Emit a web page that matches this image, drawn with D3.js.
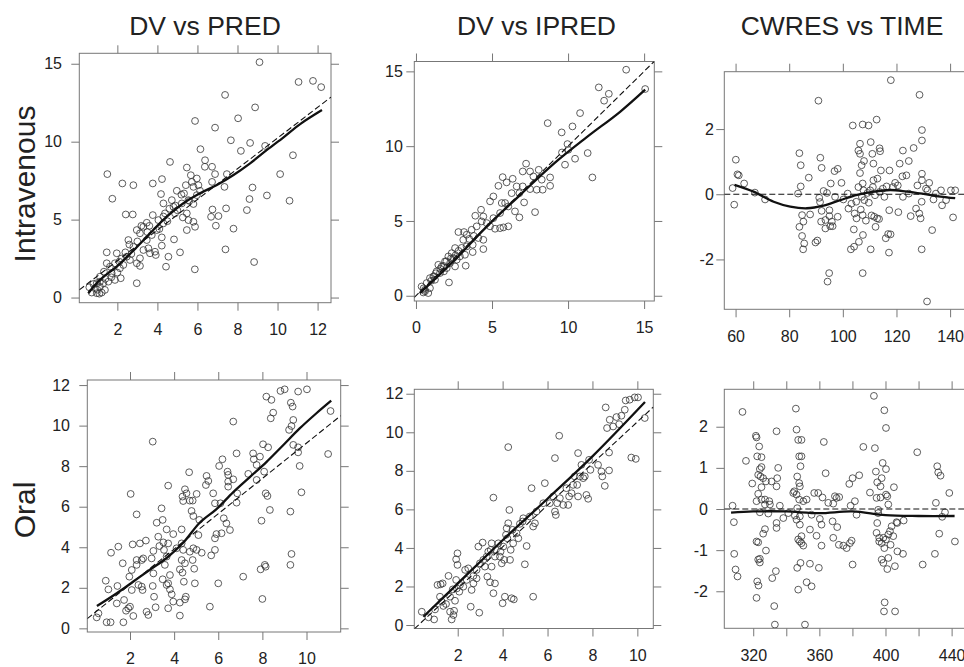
<!DOCTYPE html>
<html>
<head>
<meta charset="utf-8">
<script src="https://cdn.jsdelivr.net/npm/d3@7"></script>
<style>
body { margin: 0; background: #fff; }
text { font-family: "Liberation Sans", Arial, Helvetica, sans-serif; fill: #222; }
</style>
</head>
<body>
<svg id="chart" width="964" height="667"></svg>
<script>
// ---- data ----
var colTitles = ["DV vs PRED", "DV vs IPRED", "CWRES vs TIME"];
var rowTitles = ["Intravenous", "Oral"];

// Intravenous: DV vs PRED  [PRED, DV]
var ivPredPts = [[9.1,15.1],[11.05,13.83],[11.77,13.9],[12.18,13.5],[7.38,13.0],[8.88,12.2],[5.88,11.33],[6.88,10.9],[8.03,11.5],[7.67,10.09],[8.63,9.92],[8.17,9.41],[9.38,9.73],[10.77,9.13],[6.15,9.52],[6.38,8.81],[6.37,8.39],[6.73,8.39],[6.88,7.92],[6.73,7.42],[4.63,8.7],[5.47,8.34],[7.47,7.92],[7.35,7.1],[8.75,7.06],[10.13,7.92],[9.47,6.55],[10.6,6.21],[8.6,6.32],[8.47,5.61],[7.43,5.72],[6.75,5.65],[6.68,5.18],[7.05,5.23],[6.92,4.61],[7.8,4.42],[7.4,3.09],[8.83,2.28],[5.87,1.81],[1.5,7.92],[1.75,6.34],[2.25,7.32],[2.8,7.21],[3.77,7.32],[4.23,7.6],[2.42,5.33],[2.77,5.33],[4.18,6.64],[4.3,6.04],[4.97,6.85],[5.33,6.68],[5.67,7.85],[5.72,7.42],[5.97,7.64],[5.8,7.1],[6.05,7.21],[5.42,7.21],[6.13,6.85],[5.97,6.57],[5.55,6.25],[5.22,6.04],[4.8,5.82],[4.38,5.4],[4.72,6.25],[4.88,5.4],[5.47,5.4],[5.55,4.97],[5.8,4.86],[5.88,4.54],[5.47,4.33],[5.27,5.14],[4.83,3.73],[5.13,2.9],[4.55,2.62],[4.43,1.98],[2.97,0.92],[1.47,2.9],[3.92,2.73],[4.22,3.33],[4.22,3.86],[3.97,4.33],[3.47,4.8],[3.3,4.54],[3.77,5.29],[4.05,4.97],[4.3,4.76],[3.72,4.01],[3.47,3.69],[3.13,4.12],[2.97,4.33],[2.55,3.69],[2.8,3.26],[3.3,3.05],[3.63,2.84],[3.88,2.94],[3.55,3.16],[3.13,2.52],[2.97,2.2],[3.13,2.03],[2.63,2.41],[2.47,2.62],[2.3,2.09],[1.97,2.84],[1.88,2.2],[1.63,1.98],[1.33,1.66],[1.13,1.34],[1.47,2.2],[1.72,1.56],[2.13,1.88],[2.17,1.24],[1.88,1.13],[1.55,1.02],[1.3,0.92],[1.13,0.7],[0.88,0.6],[0.6,0.66],[0.72,0.32],[0.97,0.28],[1.22,0.32],[1.38,0.49],[1.13,1.02],[0.97,0.92],[0.8,0.87],[2.0,1.6],[2.4,2.9],[2.6,3.4],[3.0,3.6],[3.2,4.6],[3.5,4.2],[3.6,4.6],[2.2,2.5],[1.7,1.3],[1.4,1.2],[1.0,0.5],[1.1,0.25],[2.1,2.3],[2.7,2.8],[4.5,4.9],[4.6,5.7],[5.0,5.6],[4.9,5.9],[5.2,6.6],[5.6,6.2],[5.8,6.0],[4.3,5.2],[4.1,4.4]];
var ivPredLoess = [[0.55,0.28],[1.13,1.13],[1.97,1.99],[2.8,3.01],[3.63,4.12],[4.47,5.19],[5.3,6.05],[6.13,6.69],[6.97,7.22],[7.8,7.86],[8.63,8.61],[9.47,9.47],[10.3,10.28],[11.13,11.13],[12.22,12.03]];
var ivPredRef = [[0.1,0.49],[12.67,12.86]];

// Intravenous: DV vs IPRED  [IPRED, DV]
var ivIpredPts = [[13.82,15.11],[12.02,13.93],[12.37,13.04],[12.68,13.5],[10.79,12.21],[8.66,11.54],[10.29,11.32],[9.58,10.92],[9.96,10.14],[10.02,9.76],[9.6,9.58],[9.8,8.76],[10.46,9.16],[11.29,9.54],[11.6,7.91],[7.24,8.83],[7.02,8.31],[7.5,8.31],[8.07,8.42],[7.72,7.98],[8.27,7.76],[8.82,7.91],[8.82,7.35],[8.33,7.09],[7.94,7.09],[7.5,7.13],[7.02,7.31],[6.62,7.31],[6.36,7.82],[5.7,7.93],[5.96,7.58],[5.42,7.35],[6.29,6.86],[6.8,6.86],[7.11,6.24],[7.83,5.59],[6.8,5.24],[6.51,5.64],[6.07,5.97],[5.64,6.2],[5.09,6.64],[4.87,6.31],[5.53,5.53],[5.86,6.2],[6.07,4.64],[5.75,4.57],[5.53,4.52],[5.2,4.48],[4.87,4.64],[4.65,4.86],[5.09,5.19],[4.43,5.3],[4.28,5.75],[3.9,5.35],[4.32,4.97],[3.99,4.64],[4.43,3.74],[4.43,3.12],[4.1,3.86],[3.73,3.41],[3.66,4.41],[3.33,4.08],[3.16,4.26],[2.79,4.26],[3.11,3.74],[3.33,3.3],[3.73,2.92],[3.22,2.74],[3.27,2.01],[2.89,2.63],[2.57,3.19],[2.35,2.85],[2.13,2.63],[2.24,2.18],[1.91,2.3],[1.69,1.96],[1.47,2.07],[1.36,1.63],[1.84,1.63],[1.14,1.29],[0.92,1.18],[0.7,0.85],[0.37,0.62],[0.59,0.4],[0.92,0.51],[0.81,0.18],[0.48,0.22],[2.17,0.89],[2.57,1.96],[2.68,2.41],[2.46,2.52],[2.02,1.85],[1.58,1.52],[1.25,1.07],[15.07,13.82],[1.0,1.0],[1.3,1.5],[1.6,1.8],[1.8,2.0],[2.0,2.3],[2.3,2.5],[2.6,2.7],[2.8,3.0],[3.0,3.2],[3.5,3.8],[3.8,4.0],[0.5,0.5],[0.6,0.3],[1.2,1.3]];
var ivIpredLoess = [[0.26,0.18],[2.45,2.29],[4.65,4.62],[6.84,6.73],[9.03,8.8],[11.23,10.6],[13.42,12.3],[15.07,13.78]];
var ivIpredRef = [[-0.11,-0.11],[15.66,15.66]];

// Intravenous: CWRES vs TIME  [TIME, CWRES]
var ivTimePts = [[117.9,3.5],[128.6,3.05],[90.9,2.87],[103.7,2.11],[107.4,2.14],[109.6,2.11],[112.6,2.29],[129.5,1.97],[129.5,1.65],[126.4,1.42],[110.4,1.6],[106.4,1.55],[105.8,1.34],[106.4,1.24],[113.7,1.41],[113.9,1.32],[111,1.24],[122.4,1.34],[124.6,1.02],[121.2,0.94],[107.9,1.02],[111.4,0.94],[83.8,1.26],[84.3,0.89],[91.6,1.12],[92.1,0.81],[60.1,1.06],[60.7,0.61],[61.2,0.58],[63.2,0.33],[58.9,0.19],[59.5,-0.32],[67.2,0.05],[71,-0.16],[87.3,0.51],[96.9,0.71],[98.1,0.78],[95.5,0.33],[99.5,0.35],[92.8,0.1],[94.1,0.04],[83.3,0.02],[84.3,0.24],[91.2,-0.11],[91.5,-0.24],[97.1,-0.08],[100.2,-0.16],[101.8,0.02],[103.2,-0.29],[102.1,-0.44],[92.1,-0.51],[91.9,-0.84],[93.5,-0.79],[95,-0.49],[95,-0.67],[95.9,-0.84],[95.3,-0.98],[96.2,-0.98],[93.5,-1.05],[98.1,-0.69],[84.8,-0.64],[87.8,-0.62],[85.3,-0.84],[83.8,-1],[84.8,-1.28],[85.6,-1.51],[85.2,-1.69],[89.8,-1.48],[90.5,-1.42],[94.9,-2.42],[94.3,-2.68],[107.4,-2.42],[103,-1.69],[104.2,-1.61],[106,-1.46],[107.5,-1.25],[104.1,-1.08],[104.4,-0.59],[105.1,-0.74],[107.4,-0.64],[108.6,-0.81],[110.7,-0.65],[111.7,-0.69],[112.8,-0.74],[113.5,-0.76],[112.2,-1],[110.4,-1.69],[116,-1.35],[116.9,-1.22],[117.8,-1.23],[117.2,-1.79],[117.3,-0.49],[120.7,-0.55],[125.3,-0.67],[128.5,-0.59],[129,-0.74],[129.4,-0.23],[127.3,-0.44],[129.4,-1.69],[133.3,-1.1],[131.4,-3.29],[141.1,-0.71],[137,-0.34],[138.5,-0.18],[133.8,-0.16],[134.7,0.02],[136.6,0.12],[140.3,0.12],[141.9,0.12],[131.6,0.12],[132.2,0.35],[131,0.17],[129.5,0.43],[129.5,0.63],[127.8,0.27],[122.4,-0.08],[124.6,0.02],[123.7,0.58],[122.2,0.55],[120.5,0.27],[119.5,0.35],[118.7,0.22],[117.4,0.73],[114.2,0.73],[116.3,0.24],[114.9,0.17],[113.7,0.07],[115.5,-0.08],[112,-0.03],[110.2,0.12],[109.2,0.04],[107.7,0.12],[107.1,-0.08],[108,-0.18],[109.7,-0.26],[111.2,0.22],[111.4,0.43],[112.9,0.48],[106.4,0.65],[107,0.89],[107.4,0.33],[105.8,0.22],[105,-0.23],[106.7,-0.47]];
var ivTimeLoess = [[59.6,0.29],[66.7,0.08],[74.2,-0.23],[80.4,-0.38],[86.6,-0.43],[92.8,-0.35],[99.1,-0.18],[105.3,-0.02],[111.5,0.08],[117.7,0.13],[123.9,0.08],[130.1,0.01],[136.4,-0.07],[141.9,-0.12]];
var ivTimeRef = [[55.8,0],[146.3,0]];

// Oral: DV vs PRED
var oralPredPts = [[0.49,0.54],[0.57,0.74],[0.9,2.35],[1.02,1.92],[0.94,0.3],[1.12,0.3],[1.14,3.73],[1.47,4.03],[1.43,2.09],[1.4,1.23],[1.67,3.21],[1.73,1.4],[1.7,0.3],[1.82,0.87],[1.92,0.99],[2.03,6.63],[2.12,4.14],[2.3,5.62],[2.45,4.19],[2.72,4.33],[1.97,2.55],[2.08,2.88],[2.3,3.37],[2.3,3.13],[2.53,3.37],[2.6,3.45],[2.38,2.14],[2.53,2.06],[2.08,1.89],[2.15,0.61],[2.0,1.07],[2.75,0.82],[2.83,0.66],[2.57,1.89],[3.03,9.21],[2.98,3.45],[3.06,3.82],[3.21,5.21],[3.28,4.52],[3.43,5.92],[3.48,5.35],[3.06,2.71],[3.03,2.09],[3.09,1.56],[3.16,1.04],[3.33,4.06],[3.54,3.87],[3.51,4.24],[3.73,7.04],[3.66,4.88],[3.73,4.19],[3.66,3.54],[3.58,3.13],[3.81,2.63],[3.73,2.22],[3.81,1.92],[3.66,2.14],[3.89,1.68],[3.96,1.32],[3.73,0.99],[3.48,2.42],[3.96,4.65],[4.11,3.95],[4.26,0.63],[4.26,1.27],[4.34,4.88],[4.38,6.5],[4.41,6.28],[4.49,6.86],[4.56,6.66],[4.68,7.7],[4.71,6.3],[4.84,6.3],[4.79,5.79],[4.87,5.54],[5.02,6.63],[5.14,5.35],[4.34,4.19],[4.41,3.87],[4.34,3.37],[4.49,3.21],[4.26,2.91],[4.38,2.75],[4.44,2.3],[4.53,1.56],[4.49,1.43],[4.71,3.78],[4.84,3.37],[4.91,2.94],[4.94,2.22],[4.87,3.95],[5.02,3.87],[5.1,4.6],[5.25,3.73],[5.47,7.52],[5.44,7.07],[5.55,7.27],[5.62,1.07],[5.68,3.6],[5.77,6.66],[5.85,6.17],[5.85,4.44],[5.85,3.87],[5.92,4.65],[6.0,2.22],[6.04,8.01],[6.1,6.17],[6.15,4.69],[6.19,8.34],[6.25,5.43],[6.37,5.18],[6.42,7.73],[6.45,7.57],[6.45,7.24],[6.45,6.99],[6.53,4.85],[6.68,10.2],[6.68,7.35],[6.86,6.66],[6.83,6.2],[6.83,8.63],[7.13,2.55],[7.36,7.62],[7.58,8.63],[7.61,8.34],[7.74,8.06],[7.74,7.32],[7.89,8.47],[7.92,2.91],[7.96,5.31],[8.0,1.45],[8.03,9.08],[8.11,3.13],[8.15,3.04],[8.08,7.73],[8.18,11.43],[8.15,6.66],[8.23,6.53],[8.26,8.93],[8.41,11.27],[8.38,10.36],[8.49,10.64],[8.34,5.84],[8.82,11.71],[9.01,11.79],[9.21,9.79],[9.27,5.76],[9.29,11.13],[9.37,10.94],[9.4,10.28],[9.32,9.98],[9.4,9.05],[9.32,3.67],[9.27,3.13],[9.62,11.68],[9.62,8.93],[9.69,8.01],[9.77,6.71],[10.02,11.79],[9.62,8.68],[11.09,10.72],[10.98,8.6]];
var oralPredLoess = [[0.5,1.1],[1.4,1.73],[2.15,2.31],[2.9,2.89],[3.66,3.47],[4.41,4.22],[5.16,5.21],[5.92,5.88],[6.67,6.71],[7.43,7.46],[8.18,8.2],[8.94,9.03],[9.69,9.86],[10.45,10.61],[11.12,11.23]];
var oralPredRef = [[0.064,0.48],[11.55,10.49]];

// Oral: DV vs IPRED
var oralIpredPts = [[0.4,0.69],[0.7,0.4],[0.95,0.29],[0.99,0.81],[1.1,2.08],[1.24,2.11],[1.33,2.16],[1.21,1.47],[1.29,1.21],[1.36,0.99],[1.48,1.09],[1.59,2.55],[1.66,1.47],[1.66,0.69],[1.73,0.29],[1.81,0.52],[1.84,0.74],[1.88,1.26],[1.93,3.41],[1.99,3.72],[1.99,3.12],[1.93,2.34],[1.96,1.9],[1.78,1.85],[2.07,1.73],[2.1,2.08],[2.25,1.99],[2.33,2.86],[2.47,2.94],[2.4,2.34],[2.58,0.95],[2.62,1.82],[2.7,2.16],[2.7,2.55],[2.84,2.42],[2.84,2.86],[2.96,0.64],[2.92,4.07],[3.11,4.28],[2.99,3.2],[3.14,3.38],[3.21,3.03],[3.29,3.55],[3.32,2.51],[3.44,2.22],[3.36,3.81],[3.47,3.9],[3.51,4.24],[3.51,3.03],[3.59,6.61],[3.59,1.65],[3.66,2.16],[3.66,3.55],[3.7,3.9],[3.81,4.24],[3.88,3.55],[3.91,3.81],[3.96,3.2],[4,1.13],[4.07,3.38],[4.03,4.07],[4.1,1.47],[4.15,4.68],[4.18,5.02],[4.21,4.5],[4.25,5.28],[4.25,9.23],[4.3,5.97],[4.33,3.38],[4.36,3.9],[4.4,1.39],[4.44,4.94],[4.47,4.24],[4.5,1.33],[4.62,4.76],[4.7,4.5],[4.77,5.25],[4.89,5.37],[4.92,5.54],[4.99,3.15],[5.07,4.1],[5.21,5.63],[5.29,7.1],[5.36,1.47],[5.36,5.11],[5.44,5.28],[5.51,5.89],[5.81,6.32],[5.88,7.36],[6.1,6.32],[6.25,6.67],[6.33,8.66],[6.33,5.89],[6.37,5.71],[6.43,6.32],[6.52,9.82],[6.55,6.58],[6.7,6.23],[6.84,7.1],[6.92,6.23],[6.96,6.67],[7.07,6.84],[7.14,7.27],[7.21,7.71],[7.32,7.27],[7.36,8.92],[7.36,6.67],[7.44,7.71],[7.51,8.31],[7.59,7.62],[7.66,7.71],[7.73,6.75],[7.81,6.55],[7.85,8.57],[7.91,8.05],[8.25,8.31],[8.4,7.97],[8.44,7.71],[8.55,7.22],[8.59,11.29],[8.65,10.22],[8.74,8.02],[8.74,8.95],[8.77,10.65],[8.92,10.3],[9.07,10.79],[9.19,10.42],[9.29,10.86],[9.44,11.17],[9.48,11.65],[9.66,11.69],[9.88,11.81],[10.03,11.81],[9.73,8.69],[9.93,8.62],[10.33,10.74]];
var oralIpredLoess = [[0.47,0.43],[2,2.15],[4,4.4],[6,6.55],[8,8.75],[10.34,11.57]];
var oralIpredRef = [[0.067,-0.2],[10.71,11.31]];

// Oral: CWRES vs TIME
var oralTimePts = [[307.5,0.08],[308.3,-0.32],[308.5,-1.09],[309.3,-1.47],[310.5,-1.64],[313.5,2.36],[315.6,1.17],[319.4,0.62],[321.6,1.78],[322,1.74],[323.6,1.52],[322.4,1.28],[325,1.26],[324,0.97],[325,1.02],[323,0.83],[324.4,0.79],[326,0.75],[327.7,0.67],[331.1,0.67],[323,0.37],[325,0.53],[322,0.19],[325,0.23],[327.1,0.23],[329.7,0.19],[330.1,0.11],[327.1,0.11],[324,-0.08],[329.1,-0.11],[334.1,0.55],[335.1,1],[334.5,0.75],[334.1,1.89],[336.1,0.08],[334.1,-0.34],[334.1,-0.46],[327.1,-0.49],[326,-0.6],[322,-0.79],[323,-0.81],[327.7,-1.01],[323,-1.23],[324,-1.21],[324,-1.3],[322.4,-1.76],[323.2,-1.86],[322,-2.16],[331.5,-1.68],[333.7,-1.51],[332.7,-2.36],[333.1,-2.81],[338.2,-0.22],[341.2,-0.1],[345.2,-0.16],[344.2,0.39],[344.8,0.43],[345.8,2.44],[346.2,1.93],[347.2,1.68],[349.2,1.68],[347.8,1.28],[349.2,1.28],[348.6,1.04],[346.6,0.79],[347.8,0.63],[348.2,0.55],[346.2,0.35],[347.8,0.23],[350.3,0.19],[352.3,0.23],[346.6,0.02],[346.2,-0.26],[348.2,-0.18],[348.2,-0.38],[347.2,-0.74],[348.2,-0.79],[349.2,-0.83],[350.3,-0.89],[349.2,-0.66],[346.6,-1.43],[348.6,-1.31],[347.2,-1.96],[352.3,-1.78],[355.3,-1.88],[354.3,-1.33],[351.3,-2.81],[354.3,-0.5],[355.3,-0.14],[356.9,0.39],[358.3,-0.65],[359.3,0.39],[359.7,-1.43],[360.3,-0.24],[361.3,-0.38],[361.3,-0.89],[361.9,0.28],[362.7,1.63],[363.8,0.87],[365.4,0.15],[368,-0.3],[369.4,0.31],[368.4,0.13],[370.4,0.27],[372,0.29],[368.4,-0.7],[370.8,-0.44],[371.8,-0.87],[374.5,-0.89],[376.5,-0.95],[378.5,-0.83],[379.5,-0.77],[378.1,0.61],[380.1,0.75],[384.1,0.82],[378.9,0.08],[381.5,0.19],[382.5,-0.14],[380.1,-1.35],[386.6,1.51],[390.6,0.4],[393,2.75],[393.6,1.48],[394.2,0.91],[394.6,0.27],[395,0.65],[395,-0.34],[395.6,-0.02],[395.6,-0.1],[394.6,-0.58],[396.2,-0.7],[397,0.55],[397,0.28],[397.7,0.75],[398.3,1.12],[399.3,2.4],[400.3,0.97],[400.3,1.97],[400.3,0.35],[401.1,0.31],[401.7,0.11],[396.2,-0.79],[397.7,-0.83],[398.7,-0.7],[399.3,-0.95],[400.3,-0.74],[401.7,-0.62],[402.7,-0.54],[403.1,-0.87],[403.7,-0.42],[404.7,-0.66],[405.1,0.53],[405.7,-1.39],[406.7,-0.32],[407.1,-0.34],[401.7,-1.19],[397.7,-1.23],[398.7,-1.31],[401.1,-1.46],[399.5,-2.27],[399.1,-2.49],[405.8,-2.49],[407.2,-1.03],[410.6,-1.09],[411,-0.28],[419.2,1.38],[422.5,-1.35],[429.9,-1.09],[430.5,0.15],[431.3,1.04],[431.9,0.89],[433.3,0.81],[432.5,-0.6],[434.3,-0.19],[436,-0.08],[438.6,0.39],[442,-0.79]];
var oralTimeLoess = [[306.6,-0.09],[320,-0.06],[340,-0.06],[360,-0.1],[380,-0.06],[400,-0.15],[420,-0.17],[441.8,-0.17]];
var oralTimeRef = [[302.5,0],[448.7,0]];

// tick values and labels
var ivPredXTicks = [2, 4, 6, 8, 10, 12];
var ivYTicks = [0, 5, 10, 15];
var ivIpredXTicks = [0, 5, 10, 15];
var ivTimeXTicks = [60, 80, 100, 120, 140];
var ivTimeYTicks = [-2, 0, 2];
var oralXTicks = [2, 4, 6, 8, 10];
var oralYTicks = [0, 2, 4, 6, 8, 10, 12];
var oralTimeXTicks = [320, 340, 360, 380, 400, 420, 440];
var oralTimeXLabels = [320, 360, 400, 440];
var oralTimeYTicks = [-2, -1, 0, 1, 2];

// ---- layout ----
var panels = [
  {box: [79.3, 331, 53.3, 302.7], xd: [0.10, 12.67], yd: [-0.33, 15.67], xt: ivPredXTicks, yt: ivYTicks, pts: ivPredPts, lo: ivPredLoess, ref: ivPredRef, pad: 9.3},
  {box: [414.3, 654.3, 61.5, 301], xd: [-0.11, 15.67], yd: [-0.35, 15.66], xt: ivIpredXTicks, yt: ivYTicks, pts: ivIpredPts, lo: ivIpredLoess, ref: ivIpredRef, pad: 3.5},
  {box: [724.3, 967, 71.7, 309.3], xd: [55.8, 146.3], yd: [-3.53, 3.76], xt: ivTimeXTicks, yt: ivTimeYTicks, pts: ivTimePts, lo: ivTimeLoess, ref: ivTimeRef, pad: 2.5},
  {box: [87.3, 340.7, 380, 632], xd: [0.064, 11.55], yd: [-0.18, 12.25], xt: oralXTicks, yt: oralYTicks, pts: oralPredPts, lo: oralPredLoess, ref: oralPredRef, pad: 9.3},
  {box: [414.3, 653.3, 389.3, 628.5], xd: [0.067, 10.71], yd: [-0.18, 12.23], xt: oralXTicks, yt: oralYTicks, pts: oralIpredPts, lo: oralIpredLoess, ref: oralIpredRef, pad: 3},
  {box: [724.3, 966, 389.3, 628.3], xd: [302.5, 448.7], yd: [-2.9, 2.91], xt: oralTimeXTicks, xl: oralTimeXLabels, yt: oralTimeYTicks, pts: oralTimePts, lo: oralTimeLoess, ref: oralTimeRef, pad: 8.3}
];

var svg = d3.select("#chart");
var frameCol = "#777";

panels.forEach(function(p, i) {
  var x = d3.scaleLinear().domain(p.xd).range([p.box[0], p.box[1]]);
  var y = d3.scaleLinear().domain(p.yd).range([p.box[3], p.box[2]]);
  var g = svg.append("g");

  var clipId = "clip" + i;
  svg.append("clipPath").attr("id", clipId).append("rect")
    .attr("x", p.box[0]).attr("y", p.box[2])
    .attr("width", p.box[1] - p.box[0]).attr("height", p.box[3] - p.box[2]);

  // plain numbers with a hyphen minus, as in the picture
  var xFmt = function(d) { return (!p.xl || p.xl.indexOf(d) >= 0) ? String(d) : ""; };
  var yFmt = function(d) { return String(d); };

  function styleAxis(a) {
    a.select(".domain").remove();
    a.selectAll("line").attr("stroke", frameCol);
    a.selectAll("text").attr("font-size", 16).attr("fill", "#222")
      .attr("font-family", '"Liberation Sans", Arial, sans-serif');
  }

  g.append("g").attr("transform", "translate(0," + p.box[3] + ")")
    .call(d3.axisBottom(x).tickValues(p.xt).tickSize(8).tickPadding(13).tickFormat(xFmt))
    .call(styleAxis);
  g.append("g").attr("transform", "translate(0," + p.box[2] + ")")
    .call(d3.axisTop(x).tickValues(p.xt).tickSize(8).tickFormat(""))
    .call(styleAxis);
  g.append("g").attr("transform", "translate(" + p.box[0] + ",0)")
    .call(d3.axisLeft(y).tickValues(p.yt).tickSize(8).tickPadding(p.pad).tickFormat(yFmt))
    .call(styleAxis);
  g.append("g").attr("transform", "translate(" + p.box[1] + ",0)")
    .call(d3.axisRight(y).tickValues(p.yt).tickSize(8).tickFormat(""))
    .call(styleAxis);

  g.append("rect")
    .attr("x", p.box[0]).attr("y", p.box[2])
    .attr("width", p.box[1] - p.box[0]).attr("height", p.box[3] - p.box[2])
    .attr("fill", "none").attr("stroke", frameCol).attr("stroke-width", 1);

  var inner = g.append("g").attr("clip-path", "url(#" + clipId + ")");

  inner.selectAll("circle")
    .data(p.pts)
    .enter()
    .append("circle")
    .attr("cx", function(d) { return x(d[0]); })
    .attr("cy", function(d) { return y(d[1]); })
    .attr("r", 3.4)
    .attr("fill", "none")
    .attr("stroke", "#333")
    .attr("stroke-width", 0.8);

  var line = d3.line().x(function(d) { return x(d[0]); }).y(function(d) { return y(d[1]); });

  inner.append("path")
    .attr("d", line(p.ref))
    .attr("fill", "none").attr("stroke", "#111")
    .attr("stroke-width", 1.1).attr("stroke-dasharray", "6,3");

  inner.append("path")
    .attr("d", line.curve(d3.curveCatmullRom)(p.lo))
    .attr("fill", "none").attr("stroke", "#111")
    .attr("stroke-width", 2.3);
});

// column titles
var titleX = [205, 536.5, 842];
colTitles.forEach(function(t, i) {
  svg.append("text")
    .attr("x", titleX[i]).attr("y", 35)
    .attr("text-anchor", "middle")
    .attr("font-size", 26.5)
    .text(t);
});

// row titles
var rowY = [184, 510];
rowTitles.forEach(function(t, i) {
  svg.append("text")
    .attr("transform", "translate(34.5," + rowY[i] + ") rotate(-90)")
    .attr("text-anchor", "middle")
    .attr("font-size", 30)
    .text(t);
});
</script>
</body>
</html>
